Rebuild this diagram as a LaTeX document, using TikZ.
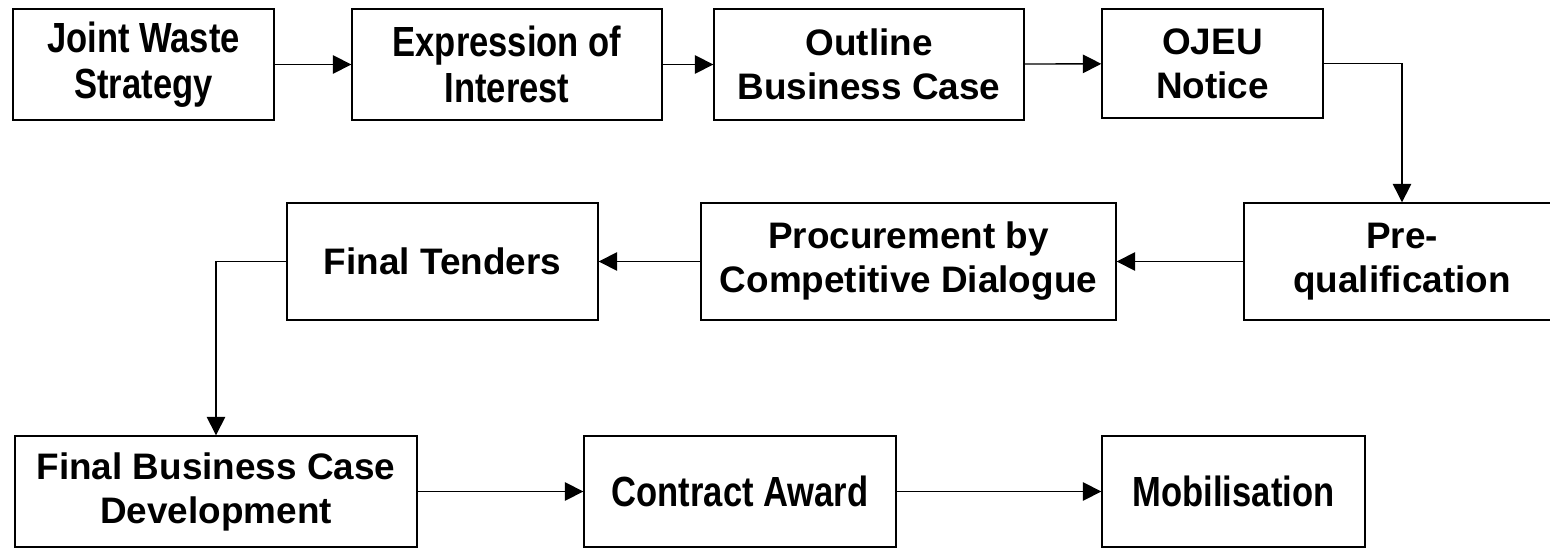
\documentclass[tikz,border=0pt]{standalone}
\usepackage{fontspec}
\setmainfont{Liberation Sans}
\newfontfamily\condfont[FakeStretch=0.82]{Liberation Sans}
\usetikzlibrary{arrows.meta}

\tikzset{
  stage/.style={draw, line width=0.8pt, align=center, inner sep=0pt,
    minimum height=2.22cm, font=\fontsize{21}{25}\selectfont\bfseries},
  condstage/.style={stage, font=\fontsize{24}{26.5}\condfont\bfseries},
  flow/.style={-{Triangle[length=10.5pt,width=10.5pt]}, line width=0.8pt}
}

\begin{document}
\begin{tikzpicture}[x=0.02cm, y=-0.02cm]
  \useasboundingbox (0,0) rectangle (1550,550);
  % first row
  \node[condstage, minimum width=5.22cm] (jws) at (143.5,64.5) {Joint Waste\\Strategy};
  \node[condstage, minimum width=6.2cm] (eoi) at (507,64.5) {Expression of\\Interest};
  \node[stage, minimum width=6.2cm] (obc) at (869,64.5) {Outline\\Business Case};
  \node[stage, minimum width=4.42cm, minimum height=2.18cm] (ojeu) at (1212.5,63.5) {OJEU\\Notice};
  % second row, right to left
  \node[stage, minimum width=6.32cm, minimum height=2.34cm] (preq) at (1402,261.5) {Pre-\\qualification};
  \node[stage, minimum width=8.3cm, minimum height=2.34cm] (proc) at (908.5,261.5) {Procurement by\\Competitive Dialogue};
  \node[stage, minimum width=6.22cm, minimum height=2.34cm] (ft) at (442.5,261.5) {Final Tenders};
  % third row
  \node[stage, minimum width=8.04cm] (fbcd) at (216,491.5) {Final Business Case\\Development};
  \node[condstage, minimum width=6.24cm] (ca) at (740,491.5) {Contract Award};
  \node[condstage, minimum width=5.26cm] (mob) at (1233.5,491.5) {Mobilisation};

  \draw[flow] (jws) -- (eoi);
  \draw[flow] (eoi) -- (obc);
  \draw[flow] (obc) -- (ojeu);
  \draw[flow] (ojeu.east) -| (preq.north);
  \draw[flow] (preq) -- (proc);
  \draw[flow] (proc) -- (ft);
  \draw[flow] (ft.west) -| (fbcd.north);
  \draw[flow] (fbcd) -- (ca);
  \draw[flow] (ca) -- (mob);
\end{tikzpicture}
\end{document}
